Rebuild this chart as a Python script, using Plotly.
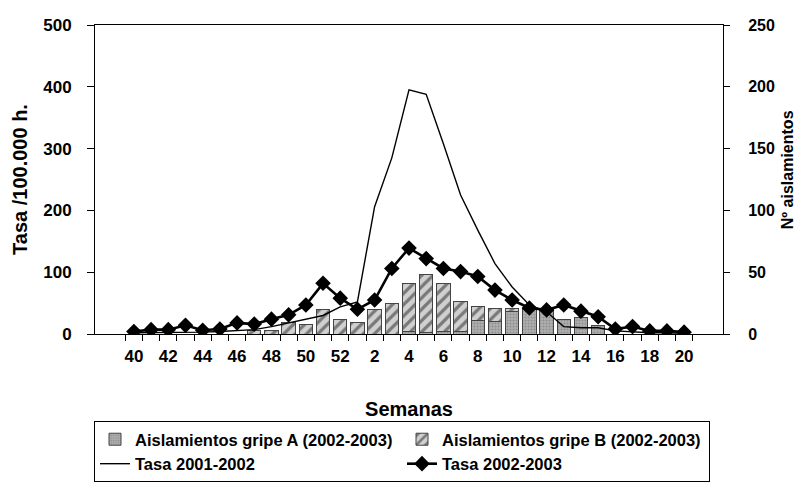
import plotly.graph_objects as go

# semanas epidemiológicas (temporada 2002-2003)
weeks = [str(w) for w in list(range(40, 53)) + list(range(1, 21))]
week_labels = [w if int(w) % 2 == 0 else "" for w in weeks]

# aislamientos (eje derecho)
gripe_a = [0, 0, 0, 0, 0, 0, 0, 0, 0, 0, 0, 0, 0, 0, 0, 0,
           2, 1, 2, 2, 11, 10, 18, 20, 20, 12, 13, 7, 0, 0, 0, 0, 0]
gripe_b = [0, 0, 0, 0, 0, 0, 0, 3, 3, 9, 8, 20, 12, 9, 20, 25,
           39, 47, 39, 24, 11, 11, 3, 1, 0, 0, 0, 0, 0, 0, 0, 0, 0]

# tasas por 100.000 h. (eje izquierdo)
tasa_0102 = [2, 2, 3, 3, 3, 4, 5, 7, 12, 18, 24, 30, 44, 52, 206, 285,
             395, 388, 308, 225, 168, 114, 76, 47, 36, 12, 10, 10, 5, 3, 2, 2, 1]
tasa_0203 = [4, 7, 7, 14, 6, 8, 18, 16, 24, 31, 47, 82, 58, 40, 55, 106,
             139, 122, 106, 101, 93, 71, 55, 42, 39, 47, 37, 28, 8, 12, 5, 5, 3]

FONT = "Liberation Sans, Arial, sans-serif"
W, H = 794, 487  # page body has an 8px margin

fig = go.Figure()

fig.add_trace(go.Bar(
    x=weeks, y=gripe_a, name="Aislamientos gripe A (2002-2003)",
    yaxis="y",
    marker=dict(color="#a8a8a8", line=dict(color="#444444", width=1),
                pattern=dict(shape=".", fgcolor="#6e6e6e", bgcolor="#b0b0b0",
                             size=3, solidity=0.4)),
))
fig.add_trace(go.Bar(
    x=weeks, y=gripe_b, name="Aislamientos gripe B (2002-2003)",
    yaxis="y",
    marker=dict(color="#d4d4d4", line=dict(color="#444444", width=1),
                pattern=dict(shape="/", fgcolor="#222222", bgcolor="#d0d0d0",
                             size=8, solidity=0.4)),
))
fig.add_trace(go.Scatter(
    x=weeks, y=tasa_0102, name="Tasa 2001-2002", yaxis="y2",
    mode="lines", line=dict(color="black", width=1.4),
))
fig.add_trace(go.Scatter(
    x=weeks, y=tasa_0203, name="Tasa 2002-2003", yaxis="y2",
    mode="lines+markers", line=dict(color="black", width=2.6),
    marker=dict(symbol="diamond", size=12, color="black"),
))

fig.update_layout(
    width=W, height=H,
    barmode="stack", bargap=0.22,
    plot_bgcolor="white", paper_bgcolor="white",
    font=dict(family=FONT, size=17, color="black", weight="bold"),
    margin=dict(l=87, r=79, t=17, b=161, autoexpand=False),
    showlegend=True,
    legend=dict(
        orientation="h", xref="container", yref="container",
        x=86 / W, xanchor="left", y=1 - 413 / H, yanchor="top",
        bordercolor="black", borderwidth=1, entrywidth=262,
        traceorder="normal", font=dict(size=16.5),
        tracegroupgap=0, itemwidth=30,
    ),
    xaxis=dict(
        type="category", categoryorder="array", categoryarray=weeks,
        tickmode="array", tickvals=weeks, ticktext=week_labels,
        tickson="boundaries", ticks="outside", ticklen=6, tickcolor="black",
        showline=True, linecolor="black", linewidth=1, mirror=True,
        showgrid=False, title=dict(text="Semanas", standoff=36),
        ticklabelstandoff=7, tickangle=0, automargin=False,
    ),
    yaxis=dict(
        side="right", range=[0, 250], tickvals=[0, 50, 100, 150, 200, 250],
        ticks="outside", ticklen=6, tickcolor="black",
        showline=True, linecolor="black", linewidth=1, showgrid=False,
        zeroline=False, ticklabelstandoff=15, automargin=False,
        tickfont=dict(size=16),
    ),
    yaxis2=dict(
        overlaying="y", side="left", range=[0, 500],
        tickvals=[0, 100, 200, 300, 400, 500],
        ticks="outside", ticklen=7, tickcolor="black",
        showline=True, linecolor="black", linewidth=1, showgrid=False,
        zeroline=False, ticklabelstandoff=12, automargin=False,
        title=dict(text="Tasa /100.000 h.", standoff=10),
    ),
    annotations=[dict(
        text="Nº aislamientos", textangle=-90, showarrow=False,
        xref="paper", yref="paper", x=1 + (779 - 715) / 628, y=0.53,
        xanchor="center", yanchor="middle", font=dict(size=16),
    )],
)

fig.write_html("out.html")
